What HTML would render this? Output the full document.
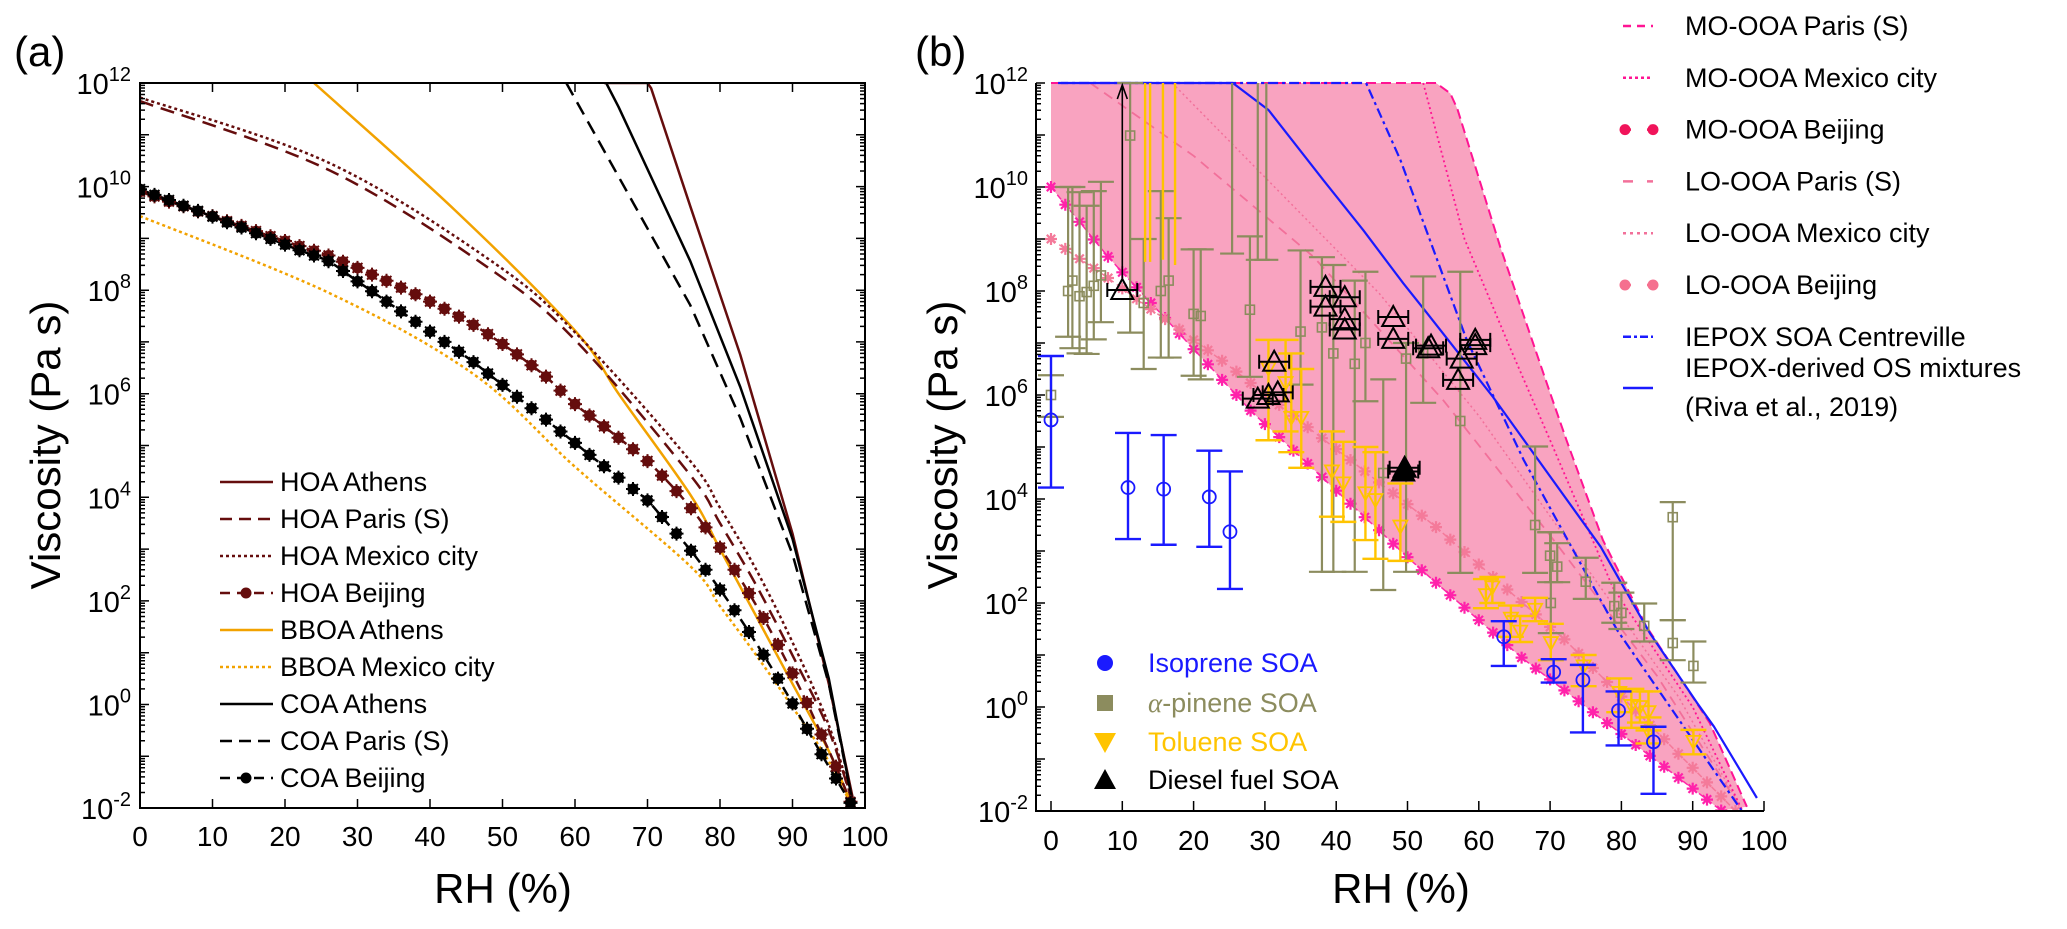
<!DOCTYPE html>
<html><head><meta charset="utf-8"><style>
html,body{margin:0;padding:0;background:#fff;}
svg{display:block;font-family:"Liberation Sans",Arial,sans-serif;}
</style></head><body>
<svg id="fig" width="2067" height="929" viewBox="0 0 2067 929" xmlns="http://www.w3.org/2000/svg">
<defs>
<clipPath id="clipA"><rect x="140" y="83" width="725" height="725"/></clipPath>
<clipPath id="clipB"><rect x="1036" y="80" width="728" height="731"/></clipPath>
</defs>
<text x="14" y="66" font-size="42">(a)</text>
<text x="915" y="66" font-size="42">(b)</text>
<text transform="translate(60,445) rotate(-90)" text-anchor="middle" font-size="42">Viscosity (Pa s)</text>
<text transform="translate(957,445) rotate(-90)" text-anchor="middle" font-size="42">Viscosity (Pa s)</text>
<text x="503" y="903" text-anchor="middle" font-size="42">RH (%)</text>
<text x="1401" y="903" text-anchor="middle" font-size="42">RH (%)</text>
<g id="gA"></g>
<g id="gB"></g>
<g id="gAx"></g>
<g id="gLeg"></g>
</svg>
<script>
// ---------- Panel (a) data: RH (%) and log10 viscosity ----------
const hoaAthensRH=[64,70,70.5,75.9,82.8,90,95,98.3];
const hoaAthensLog=[12,12,11.9,9.62,6.75,3.3,0.4,-1.8];
const hoaParisRH=[0,26.2,49.1,60.6,75.9,80,85,90,95,98.5];
const hoaParisLog=[11.65,10.31,8.33,6.95,4.43,3.5,2.3,0.95,-0.5,-2];
const hoaMexicoRH=[0,26.2,49.1,60.6,75.9,80,85,90,95,98.5];
const hoaMexicoLog=[11.72,10.45,8.5,7.1,4.7,3.8,2.6,1.2,-0.4,-2];
const beijingRH=[0,2,4,6,8,10,12,14,16,18,20,22,24,26,28,30,32,34,36,38,40,42,44,46,48,50,52,54,56,58,60,62,64,66,68,70,72,74,76,78,80,82,84,86,88,90,92,94,96,98];
const hoaBeijingLog=[9.9,9.81,9.71,9.62,9.52,9.43,9.33,9.24,9.14,9.04,8.95,8.85,8.76,8.67,8.55,8.43,8.3,8.18,8.05,7.92,7.78,7.64,7.49,7.33,7.15,6.96,6.76,6.55,6.33,6.06,5.8,5.58,5.37,5.15,4.93,4.7,4.42,4.12,3.79,3.42,3.03,2.6,2.15,1.67,1.15,0.6,0.03,-0.58,-1.2,-1.88];
const coaBeijingLog=[9.95,9.84,9.74,9.63,9.53,9.42,9.31,9.21,9.1,8.99,8.88,8.77,8.67,8.56,8.37,8.17,7.98,7.78,7.59,7.39,7.2,7.0,6.81,6.61,6.39,6.17,5.94,5.72,5.5,5.27,5.05,4.82,4.6,4.38,4.16,3.94,3.62,3.3,2.97,2.6,2.22,1.82,1.4,0.96,0.5,0.02,-0.47,-0.96,-1.43,-1.9];
const bboaAthensRH=[24,43.4,60,66.2,75.9,80,85,90,95,98.3];
const bboaAthensLog=[12,9.55,7.22,5.96,4.05,3.0,1.7,0.4,-0.9,-2];
const bboaMexicoRH=[0,26,46,60,75.9,80,85,90,95,98.3];
const bboaMexicoLog=[9.43,7.95,6.38,4.59,2.67,1.9,0.95,-0.05,-1.1,-2];
const coaAthensRH=[64.3,66,75.9,82.8,90,95,98.3];
const coaAthensLog=[12,11.54,8.56,6.13,3.2,0.5,-1.9];
const coaParisRH=[58.8,75.9,82.8,90,95,98.3];
const coaParisLog=[12,7.71,5.53,2.9,0.4,-1.9];

// ---------- Panel (b) data ----------
const moParisRH=[0,54,56,57,63,70,72.3,77.4,83.5,92.4,97.6];
const moParisLog=[12,12,11.8,11.5,8.85,6.04,5.13,3.21,1.55,-0.31,-1.92];
const moMexicoRH=[52.2,58,64.4,70,78.8,90,97];
const moMexicoLog=[12,9.0,6.9,5.13,2.3,0,-2];
const moBeijingRH=[0,2,4,6,8,10,12,14,16,18,20,22,24,26,28,30,32,34,36,38,40,42,44,46,48,50,52,54,56,58,60,62,64,66,68,70,72,74,76,78,80,82,84,86,88,90,92,94];
const moBeijingLog=[10,9.66,9.33,8.99,8.66,8.36,8.07,7.77,7.48,7.18,6.88,6.59,6.29,6.0,5.7,5.44,5.19,4.93,4.68,4.42,4.16,3.91,3.65,3.4,3.14,2.88,2.63,2.39,2.15,1.91,1.67,1.43,1.19,0.95,0.74,0.53,0.32,0.11,-0.1,-0.31,-0.52,-0.73,-0.94,-1.15,-1.36,-1.57,-1.78,-1.99];
const loParisRH=[5.5,20,36.8,55,70,85,97];
const loParisLog=[12,10.6,8.66,5.9,3.3,0.6,-2];
const loMexicoRH=[17,46,60,75,88,97];
const loMexicoLog=[12,7.96,5.6,2.7,0.2,-2];
const loBeijingRH=[0,2,4,6,8,10,12,14,16,18,20,22,24,26,28,30,32,34,36,38,40,42,44,46,48,50,52,54,56,58,60,62,64,66,68,70,72,74,76,78,80,82,84,86,88,90,92,94,96];
const loBeijingLog=[9.0,8.81,8.62,8.44,8.25,8.05,7.85,7.65,7.46,7.26,7.06,6.86,6.66,6.45,6.23,6.02,5.81,5.6,5.38,5.17,4.96,4.75,4.53,4.32,4.11,3.9,3.68,3.46,3.22,2.98,2.74,2.5,2.26,2.02,1.78,1.54,1.3,1.03,0.75,0.48,0.2,-0.07,-0.35,-0.62,-0.9,-1.17,-1.45,-1.72,-2.0];
const iepoxRH=[1,44.2,49,58.3,66.3,79.4,96.9];
const iepoxLog=[12,12,10.52,7.06,4.75,1.48,-2];
const iepoxOsRH=[1.4,25.5,30.5,38.2,43.8,49.4,52.7,62,77.1,84,90.6,93,99];
const iepoxOsLog=[12,12,11.48,10.13,9.17,8.15,7.58,5.96,3.08,1.42,0.08,-0.38,-1.75];

const isoRH=[0,10.8,15.8,22.2,25.1,63.5,70.5,74.6,79.6,84.5];
const isoLog=[5.52,4.22,4.19,4.04,3.37,1.35,0.67,0.52,-0.07,-0.67];
const isoLo=[4.22,3.23,3.12,3.08,2.27,0.79,0.47,-0.49,-0.74,-1.67];
const isoHi=[6.75,5.27,5.23,4.93,4.53,1.65,0.92,0.81,0.3,-0.38];

const apRH=[0,2.4,3.0,4.0,5.0,6.0,7.0,11.1,13,15.4,16.5,20,21,27.9,35,38,39.6,42.6,44.1,46.6,49.8,52.2,57.4,67.9,70,71,70.1,75,79,80,83.2,87.2,87.2,90.1];
const apLog=[6.0,8.0,8.2,7.9,7.98,8.1,8.3,10.99,7.77,8.0,8.2,7.56,7.52,7.64,7.22,7.3,6.8,6.6,7.0,4.5,6.7,6.8,5.5,3.5,2.91,2.7,2.0,2.41,1.94,1.81,1.56,3.65,1.23,0.79];
const apLo=[5.58,7.12,6.9,6.8,6.79,7.07,7.4,7.2,6.5,6.72,6.72,6.37,6.3,6.35,6.2,2.6,2.6,2.6,5.88,2.25,2.6,5.85,2.58,2.58,2.4,2.4,1.42,2.08,1.62,1.5,1.26,1.67,0.9,0.47];
const apHi=[6.38,10.0,10.0,9.9,9.64,9.92,10.1,12,9.0,9.92,9.4,8.8,8.8,9.05,8.78,8.65,8.5,8.2,8.37,6.3,7.0,8.28,8.37,5.01,3.36,3.15,3.36,2.87,2.39,2.2,1.99,3.94,1.67,1.26];
const apOpenBarRH=[25.4,29,30.2];
const apOpenBarLo=[8.72,8.6,8.6];

const tolBarRH=[13.2,13.9,15.7,17.4];
const tolBarLo=[8.56,8.56,8.6,8.5];
const tolRH=[30.5,32.9,33.7,35.1,39.4,41,44.1,45.5,49,61,61.9,64.5,65.8,67.9,70.1,74.7,79.7,81.4,82.6,83.8,83.8,90.1];
const tolLog=[6.51,6.23,5.56,5.56,4.53,4.3,4.11,3.98,3.47,2.15,2.3,1.7,1.45,1.87,1.23,0.78,0.27,0.02,0.0,-0.1,-0.48,-0.67];
const tolLo=[5.13,5.3,4.9,4.6,3.66,3.56,3.21,2.85,2.81,1.9,2.0,1.35,1.25,1.65,0.9,0.4,-0.1,-0.4,-0.3,-0.45,-0.7,-0.91];
const tolHi=[7.06,7.06,6.8,6.5,5.3,5.1,5.0,4.9,4.3,2.46,2.5,1.95,1.75,2.1,1.6,1.0,0.55,0.35,0.3,0.3,-0.2,-0.44];

const dieselRH=[10,31.3,29,30.5,31.8,38.5,38.5,41.2,41.2,41.2,48,48,52.9,53.3,57.6,57.1,59.5,59.5];
const dieselLog=[8.02,6.64,5.93,6.0,6.05,8.08,7.7,7.88,7.46,7.26,7.5,7.08,6.9,6.95,6.7,6.29,7.06,6.96];
const dieselFilledRH=[49.4,49.6];
const dieselFilledLog=[4.53,4.6];

const yTickExp=[12,10,8,6,4,2,0,-2];
const xTickVals=[0,10,20,30,40,50,60,70,80,90,100];

// ---------- scales ----------
const xa=r=>140+r*7.25, ya=l=>83+(12-l)*51.79;
const xb=r=>1051+r*7.13, yb=l=>83+(12-l)*52;
const NS='http://www.w3.org/2000/svg';
function mk(tag,attrs,parent){const e=document.createElementNS(NS,tag);for(const k in attrs)e.setAttribute(k,attrs[k]);parent.appendChild(e);return e;}
const gA=document.getElementById('gA'), gB=document.getElementById('gB'), gAx=document.getElementById('gAx'), gLeg=document.getElementById('gLeg');
const cA=mk('g',{'clip-path':'url(#clipA)'},gA);


const cB=mk('g',{'clip-path':'url(#clipB)'},gB);



function pathD(xs,ys,fx,fy,smooth){
  const P=xs.map((r,i)=>[fx(r),fy(ys[i])]);
  let d='M'+P[0][0].toFixed(1)+' '+P[0][1].toFixed(1);
  for(let i=0;i<P.length-1;i++){
    const p1=P[i], p2=P[i+1];
    if(!smooth){d+='L'+p2[0].toFixed(1)+' '+p2[1].toFixed(1);continue;}
    const p0=P[i-1]||P[i], p3=P[i+2]||P[i+1];
    const c1=[p1[0]+(p2[0]-p0[0])/6, p1[1]+(p2[1]-p0[1])/6];
    const c2=[p2[0]-(p3[0]-p1[0])/6, p2[1]-(p3[1]-p1[1])/6];
    d+='C'+c1[0].toFixed(1)+' '+c1[1].toFixed(1)+' '+c2[0].toFixed(1)+' '+c2[1].toFixed(1)+' '+p2[0].toFixed(1)+' '+p2[1].toFixed(1);
  }
  return d;
}
function line(parent,xs,ys,fx,fy,color,w,dash,name,smooth){
  const p=mk('path',{d:pathD(xs,ys,fx,fy,smooth),fill:'none',stroke:color,'stroke-width':w,'stroke-dasharray':dash||'none','stroke-linejoin':'round'},parent);
  
  
  return p;
}
function asterisk(parent,x,y,r,color,w,name){
  let d='';for(let k=0;k<4;k++){const a=k*Math.PI/4;d+='M'+(x-r*Math.cos(a)).toFixed(1)+' '+(y-r*Math.sin(a)).toFixed(1)+'L'+(x+r*Math.cos(a)).toFixed(1)+' '+(y+r*Math.sin(a)).toFixed(1);}
  const p=mk('path',{d:d,stroke:color,'stroke-width':w,fill:'none'},parent);
  
  
}

// ---------- Panel (a) series ----------
const HOA='#650d0d', BBOA='#f2a200';
line(cA,bboaMexicoRH,bboaMexicoLog,xa,ya,BBOA,2.5,'3 3','bboa-mexico-line',true);
line(cA,bboaAthensRH,bboaAthensLog,xa,ya,BBOA,2.5,null,'bboa-athens-line',true);
line(cA,hoaParisRH,hoaParisLog,xa,ya,HOA,2.5,'14 8','hoa-paris-line',true);
line(cA,hoaMexicoRH,hoaMexicoLog,xa,ya,HOA,2.5,'3 3','hoa-mexico-line',true);
line(cA,hoaAthensRH,hoaAthensLog,xa,ya,HOA,2.5,null,'hoa-athens-line',false);
line(cA,coaAthensRH,coaAthensLog,xa,ya,'#000',2.5,null,'coa-athens-line',false);
line(cA,coaParisRH,coaParisLog,xa,ya,'#000',2.5,'14 8','coa-paris-line',false);
line(cA,beijingRH,hoaBeijingLog,xa,ya,HOA,2.5,'10 6','hoa-beijing-line',true);
line(cA,beijingRH,coaBeijingLog,xa,ya,'#000',2.5,'10 6','coa-beijing-line',true);
beijingRH.forEach((r,i)=>{
  const m=mk('circle',{cx:xa(r),cy:ya(hoaBeijingLog[i]),r:5.5,fill:HOA},cA);
  
  
  asterisk(cA,xa(r),ya(hoaBeijingLog[i]),7,HOA,2,'hoa-beijing-marker-star');
});
beijingRH.forEach((r,i)=>{
  const m=mk('circle',{cx:xa(r),cy:ya(coaBeijingLog[i]),r:5.5,fill:'#000'},cA);
  
  
  asterisk(cA,xa(r),ya(coaBeijingLog[i]),7,'#000',2,'coa-beijing-marker-star');
});

// ---------- Panel (b) fill ----------
(function(){
  let d='M'+xb(moParisRH[0])+' '+yb(moParisLog[0]);
  moParisRH.forEach((r,i)=>{d+=' L'+xb(r).toFixed(1)+' '+yb(moParisLog[i]).toFixed(1);});
  for(let i=moBeijingRH.length-1;i>=0;i--) d+=' L'+xb(moBeijingRH[i]).toFixed(1)+' '+yb(moBeijingLog[i]).toFixed(1);
  d+='Z';
  const f=mk('path',{d:d,fill:'#f9a3c0',stroke:'none'},cB);
  
  
})();
const MO='#ff1493', LO='#f2709a', BL='#1a1aff', OL='#8c8c5e', TOL='#ffc400';
line(cB,loParisRH,loParisLog,xb,yb,LO,1.8,'10 7','lo-ooa-paris-line',false);
line(cB,loMexicoRH,loMexicoLog,xb,yb,LO,1.5,'2 3','lo-ooa-mexico-line',false);
line(cB,moMexicoRH,moMexicoLog,xb,yb,MO,1.8,'2 3','mo-ooa-mexico-line',false);
line(cB,moParisRH,moParisLog,xb,yb,MO,2,'10 5','mo-ooa-paris-line',false);
line(cB,iepoxRH,iepoxLog,xb,yb,BL,2.2,'10 4 3 4','iepox-centreville-line',false);
line(cB,iepoxOsRH,iepoxOsLog,xb,yb,BL,2.2,null,'iepox-os-line',false);
line(cB,moBeijingRH,moBeijingLog,xb,yb,'#ff2aa8',1.5,'6 4','mo-ooa-beijing-line',false);
line(cB,loBeijingRH,loBeijingLog,xb,yb,'#f47a9a',1.5,'6 4','lo-ooa-beijing-line',false);
moBeijingRH.forEach((r,i)=>asterisk(cB,xb(r),yb(moBeijingLog[i]),6,'#ff22aa',2.2,'mo-ooa-beijing-marker'));
loBeijingRH.forEach((r,i)=>asterisk(cB,xb(r),yb(loBeijingLog[i]),6,'#f47a9a',2.2,'lo-ooa-beijing-marker'));

function vbar(parent,x,y1,y2,cap,color,w,name){
  const d='M'+x+' '+y1+'V'+y2+'M'+(x-cap)+' '+y1+'H'+(x+cap)+'M'+(x-cap)+' '+y2+'H'+(x+cap);
  const p=mk('path',{d:d,stroke:color,'stroke-width':w,fill:'none'},parent);
  
  
}
// alpha-pinene
apOpenBarRH.forEach((r,i)=>{
  const p=mk('path',{d:'M'+xb(r)+' '+yb(12)+'V'+yb(apOpenBarLo[i])+'M'+(xb(r)-12)+' '+yb(apOpenBarLo[i])+'H'+(xb(r)+12),stroke:OL,'stroke-width':2.2,fill:'none'},cB);
  
  
});
apRH.forEach((r,i)=>{
  vbar(cB,xb(r),yb(apHi[i]),yb(apLo[i]),13,OL,2.2,'alpha-pinene-error-bar');
  const s=mk('rect',{x:xb(r)-4.5,y:yb(apLog[i])-4.5,width:9,height:9,fill:'none',stroke:OL,'stroke-width':1.6},cB);
  
  
});
// toluene
tolBarRH.forEach((r,i)=>{
  const p=mk('path',{d:'M'+xb(r)+' '+yb(12)+'V'+yb(tolBarLo[i]),stroke:TOL,'stroke-width':2.4,fill:'none'},cB);
  
  
});
tolRH.forEach((r,i)=>{
  vbar(cB,xb(r),yb(tolHi[i]),yb(tolLo[i]),13,TOL,2.4,'toluene-error-bar');
  const x=xb(r), y=yb(tolLog[i]);
  const t=mk('path',{d:'M'+(x-7)+' '+(y-6)+'H'+(x+7)+'L'+x+' '+(y+7)+'Z',fill:'none',stroke:TOL,'stroke-width':1.8},cB);
  
  
});
// isoprene
isoRH.forEach((r,i)=>{
  vbar(cB,xb(r),yb(isoHi[i]),yb(isoLo[i]),13,BL,2.4,'isoprene-error-bar');
  const c=mk('circle',{cx:xb(r),cy:yb(isoLog[i]),r:6.5,fill:'none',stroke:BL,'stroke-width':1.8},cB);
  
  
});
// diesel
function tri(parent,x,y,filled,name){
  const t=mk('path',{d:'M'+(x-11)+' '+(y+9)+'H'+(x+11)+'L'+x+' '+(y-11)+'Z',fill:filled?'#000':'none',stroke:'#000','stroke-width':2},parent);
  
  
  const h=mk('path',{d:'M'+(x-15)+' '+y+'H'+(x+15)+'M'+(x-15)+' '+(y-7)+'V'+(y+7)+'M'+(x+15)+' '+(y-7)+'V'+(y+7),stroke:'#000','stroke-width':2,fill:'none'},parent);
  
  
}
(function(){
  const x=xb(dieselRH[0]), y1=yb(dieselLog[0])-10, y2=yb(12)+2;
  const a=mk('path',{d:'M'+x+' '+y1+'V'+y2+'M'+(x-5)+' '+(y2+14)+'L'+x+' '+y2+'L'+(x+5)+' '+(y2+14),stroke:'#000','stroke-width':1.6,fill:'none'},cB);
  
  
})();
dieselRH.forEach((r,i)=>tri(cB,xb(r),yb(dieselLog[i]),false,'diesel-point'));
dieselFilledRH.forEach((r,i)=>tri(cB,xb(r),yb(dieselFilledLog[i]),true,'diesel-point-filled'));

// ---------- Axes ----------
function axisPath(d,name,w){
  const p=mk('path',{d:d,stroke:'#000','stroke-width':w||2,fill:'none'},gAx);
  
  
}
axisPath('M140 83H865V808H140Z','panel-a-axes-box');
axisPath('M1036 83V811H1764','panel-b-axes');
let dA='',dB='';
xTickVals.forEach(v=>{const x=xa(v);dA+='M'+x+' 808v-9M'+x+' 83v9';const xx=xb(v);dB+='M'+xx+' 811v-10';});
for(let e=-2;e<12;e++){for(let m=1;m<10;m++){const l=e+Math.log10(m);const L=m===1?9:5;dA+='M140 '+ya(l).toFixed(1)+'h'+L+'M865 '+ya(l).toFixed(1)+'h-'+L;dB+='M1036 '+yb(l).toFixed(1)+'h'+L;}}
dA+='M140 '+ya(12)+'h9M865 '+ya(12)+'h-9';dB+='M1036 '+yb(12)+'h9';
axisPath(dA,'panel-a-ticks',1.5);
axisPath(dB,'panel-b-ticks',1.5);
function tickLabels(fx,fy,xEnd,yBase){
  xTickVals.forEach(v=>{
    const t=mk('text',{x:fx(v),y:yBase,'text-anchor':'middle','font-size':28},gAx);
    t.textContent=v;
    
    
  });
  yTickExp.forEach(e=>{
    const t=mk('text',{x:xEnd,y:fy(e)+11,'text-anchor':'end','font-size':29},gAx);
    
    
    const a=mk('tspan',{},t);a.textContent='10';
    const b=mk('tspan',{dy:-13,'font-size':20},t);b.textContent=String(e);
  });
}
tickLabels(xa,ya,131,846);
tickLabels(xb,yb,1028,850);

// ---------- Legends ----------
function legText(x,y,str,color,name){
  const t=mk('text',{x:x,y:y+9,'font-size':27,fill:color||'#000'},gLeg);
  t.textContent=str;
  
  
  return t;
}
function legLine(x1,x2,y,color,w,dash,name){
  const p=mk('path',{d:'M'+x1+' '+y+'H'+x2,stroke:color,'stroke-width':w,'stroke-dasharray':dash||'none'},gLeg);
  
  
}
const legA=[['HOA Athens',HOA,null,false],['HOA Paris (S)',HOA,'12 7',false],['HOA Mexico city',HOA,'3 3',false],['HOA Beijing',HOA,'10 7',true],['BBOA Athens',BBOA,null,false],['BBOA Mexico city',BBOA,'3 3',false],['COA Athens','#000',null,false],['COA Paris (S)','#000','12 7',false],['COA Beijing','#000','10 7',true]];
legA.forEach((it,i)=>{
  const y=482+i*37;
  legLine(220,273,y,it[1],2.5,it[2],'legend-a-swatch');
  if(it[3]){const c=mk('circle',{cx:246,cy:y,r:5.5,fill:it[1]},gLeg);}
  legText(280,y,it[0],'#000','legend-a-entry');
});
const legB=[['MO-OOA Paris (S)',MO,'8 6',0],['MO-OOA Mexico city',MO,'3 3',0],['MO-OOA Beijing','#f0145a','8 16',1],['LO-OOA Paris (S)',LO,'10 14',0],['LO-OOA Mexico city',LO,'3 4',0],['LO-OOA Beijing','#f5708f','8 16',1],['IEPOX SOA Centreville',BL,'8 3 3 3',0]];
legB.forEach((it,i)=>{
  const y=26+i*51.8;
  legLine(1623,1653,y,it[1],2.5,it[2],'legend-b-swatch');
  if(it[3]){[1625,1653].forEach(cx=>{const c=mk('circle',{cx:cx,cy:y,r:5.5,fill:it[1]},gLeg);});}
  legText(1685,y,it[0],'#000','legend-b-entry');
});
legLine(1623,1653,388,BL,2.5,null,'legend-b-swatch');
legText(1685,368,'IEPOX-derived OS mixtures','#000','legend-b-entry');
legText(1685,407,'(Riva et al., 2019)','#000','legend-b-entry');

// lower-left legend of panel b
(function(){
  const ys=[663,703,742,780];
  const c=mk('circle',{cx:1105,cy:ys[0],r:8,fill:BL},gLeg);
  const s=mk('rect',{x:1097,y:ys[1]-8,width:16,height:16,fill:OL},gLeg);
  const t=mk('path',{d:'M1094 '+(ys[2]-9)+'H1116L1105 '+(ys[2]+11)+'Z',fill:TOL},gLeg);
  const d=mk('path',{d:'M1094 '+(ys[3]+9)+'H1116L1105 '+(ys[3]-11)+'Z',fill:'#000'},gLeg);
  legText(1148,ys[0],'Isoprene SOA',BL,'legend-isoprene-entry');
  const ap=legText(1148,ys[1],'',OL,'legend-alpha-pinene-entry');
  const al=mk('tspan',{'font-style':'italic','font-family':'"Liberation Serif",serif'},ap);al.textContent='α';
  const rest=mk('tspan',{},ap);rest.textContent='-pinene SOA';
  legText(1148,ys[2],'Toluene SOA',TOL,'legend-toluene-entry');
  legText(1148,ys[3],'Diesel fuel SOA','#000','legend-diesel-entry');
})();
</script>
</body></html>
